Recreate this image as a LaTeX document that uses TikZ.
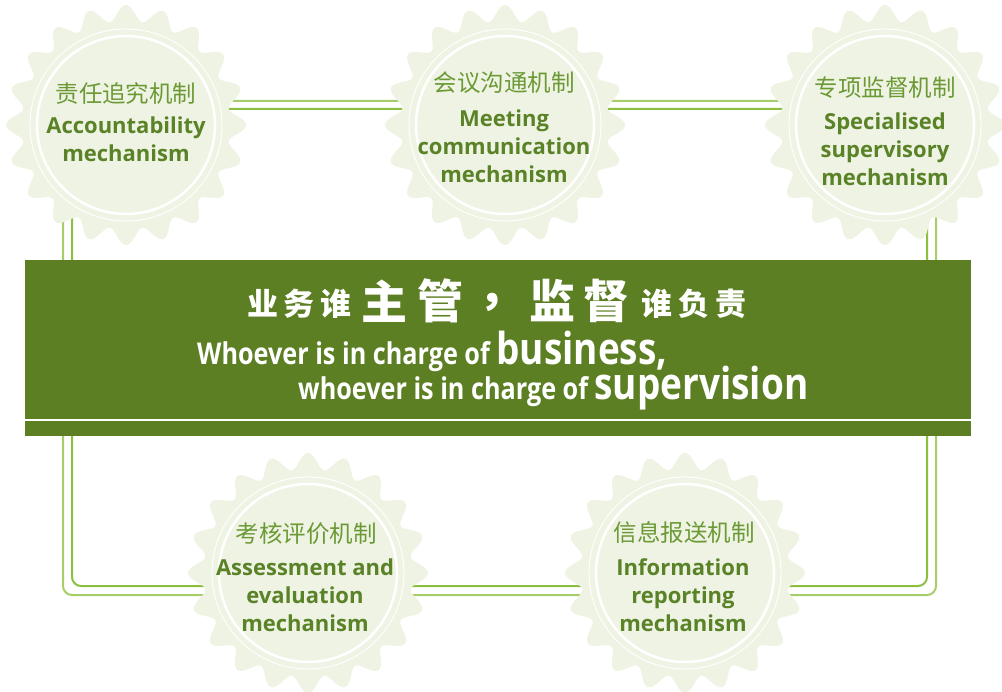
\documentclass[tikz,border=0pt]{standalone}
\usepackage{fontspec}
\setmainfont{Open Sans}
\newfontfamily\cjk{Noto Sans CJK SC}
\newfontfamily\cond[FakeStretch=0.84]{Open Sans}
\definecolor{gearfill}{HTML}{EFF3E4}
\definecolor{txtgreen}{HTML}{5A8227}
\definecolor{cjkgreen}{HTML}{6B9A35}
\definecolor{bangreen}{HTML}{5B7F22}
\definecolor{lineA}{HTML}{8DBF3F}
\definecolor{lineB}{HTML}{A6CD68}
\tikzset{
  pics/gear/.style={code={
    \fill[gearfill] plot[domain=0:360, samples=361, variable=\t, smooth] (\t:{112+8*cos(20*\t)}) -- cycle;
    \draw[white, line width=0.9pt] (0,0) circle (96pt);
    \draw[white, line width=2.5pt] (0,0) circle (89pt);
  }},
  gearcjk/.style={inner sep=0, text=cjkgreen, font=\cjk\fontsize{23.5}{23.5}\selectfont},
  geareng/.style={inner sep=0, text=txtgreen, align=center, font=\bfseries\fontsize{22}{28}\selectfont},
  frameA/.style={draw=lineA, line width=2pt, rounded corners=9pt},
  frameB/.style={draw=lineB, line width=2pt, rounded corners=9pt},
  bancjk/.style={inner sep=0, text=white, font=\cjk\bfseries},
  baneng/.style={inner sep=0, text=white, anchor=base west, font=\cond\bfseries},
}
\begin{document}
\begin{tikzpicture}[x=1pt, y=-1pt]
\useasboundingbox (0,0) rectangle (1002,692);
% frame loop (connectors)
\coordinate (oTL) at (63,101);
\coordinate (oBR) at (936,595);
\coordinate (iTL) at (72,109);
\coordinate (iBR) at (927,586);
\draw[frameB] (oTL) rectangle (oBR);
\draw[frameA] (iTL) rectangle (iBR);
% banner
\node[fill=bangreen, minimum width=946pt, minimum height=176pt, inner sep=0, anchor=north west] (banner) at (25,260) {};
\draw[white, line width=2.5pt] ([yshift=16.5pt]banner.south west) -- ([yshift=16.5pt]banner.south east);
% gears
\pic at (126,125) {gear};
\pic at (505,125) {gear};
\pic at (885,125) {gear};
\pic at (308,573) {gear};
\pic at (685,573) {gear};
% gear texts
\node[gearcjk] (c1) at (126,94) {责任追究机制};
\node[geareng] (e1) at (126,139.5) {Accountability\\mechanism};
\node[gearcjk] (c2) at (504,83) {会议沟通机制};
\node[geareng] (e2) at (504,146.5) {Meeting\\communication\\mechanism};
\node[gearcjk] (c3) at (885,88) {专项监督机制};
\node[geareng] (e3) at (885,149.5) {Specialised\\supervisory\\mechanism};
\node[gearcjk] (c4) at (306,534) {考核评价机制};
\node[geareng] (e4) at (305,595.5) {Assessment and\\evaluation\\mechanism};
\node[gearcjk] (c5) at (684,532) {信息报送机制};
\node[geareng] (e5) at (683,595.5) {Information\\reporting\\mechanism};
% banner title
\node[bancjk, font=\cjk\bfseries\fontsize{31}{31}\selectfont] (t1) at (299.5,304) {业\hspace{6pt}务\hspace{6pt}谁};
\node[bancjk, font=\cjk\bfseries\fontsize{46}{46}\selectfont] (t2) at (384,301) {主};
\node[bancjk, font=\cjk\bfseries\fontsize{46}{46}\selectfont] (t3) at (440,301) {管};
\node[bancjk, font=\cjk\bfseries\fontsize{46}{46}\selectfont, anchor=base west] (t4) at (478,305) {，};
\node[bancjk, font=\cjk\bfseries\fontsize{46}{46}\selectfont] (t5) at (552,301) {监};
\node[bancjk, font=\cjk\bfseries\fontsize{46}{46}\selectfont] (t6) at (606,301) {督};
\node[bancjk, font=\cjk\bfseries\fontsize{31}{31}\selectfont] (t7) at (694,304) {谁\hspace{6pt}负\hspace{6pt}责};
\node[baneng] (l2) at (197,365) {\fontsize{30}{30}\selectfont Whoever is in charge of \fontsize{44}{44}\selectfont business,};
\node[baneng] (l3) at (298,400) {\fontsize{30}{30}\selectfont whoever is in charge of \fontsize{44}{44}\selectfont supervision};
\end{tikzpicture}
\end{document}
